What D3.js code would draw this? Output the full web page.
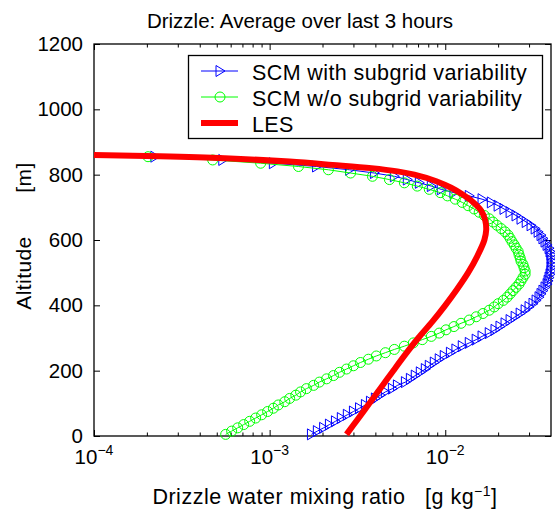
<!DOCTYPE html>
<html>
<head>
<meta charset="utf-8">
<title>Drizzle: Average over last 3 hours</title>
<script src="https://cdn.jsdelivr.net/npm/d3@7"></script>
<style>
body { margin: 0; background: #fff; }
text { font-family: "Liberation Sans", Arial, sans-serif; fill: #000; }
</style>
</head>
<body>
<div id="chart"></div>
<script>
// model levels [m]
const altitude = [5, 15, 25, 35, 45, 55, 65, 75, 85, 95,
  105, 115, 125, 135, 145, 155, 165, 175, 185, 195,
  205, 215, 225, 235, 245, 255, 265, 275, 285, 295,
  305, 315, 325, 335, 345, 355, 365, 375, 385, 395,
  405, 415, 425, 435, 445, 455, 465, 475, 485, 495,
  505, 515, 525, 535, 545, 555, 565, 575, 585, 595,
  605, 615, 625, 635, 645, 655, 665, 675, 685, 695,
  705, 715, 725, 735, 745, 755, 765, 775, 785, 795,
  805, 815, 825, 835, 845, 855];

// SCM with subgrid variability [g/kg]
const withSubgrid = [1.73e-3, 1.87e-3, 2.03e-3, 2.19e-3, 2.37e-3, 2.56e-3, 2.77e-3, 3.00e-3, 3.25e-3, 3.51e-3,
  3.75e-3, 4.00e-3, 4.27e-3, 4.56e-3, 5.00e-3, 5.34e-3, 5.93e-3, 6.33e-3, 6.75e-3, 7.21e-3,
  7.70e-3, 8.11e-3, 8.66e-3, 9.24e-3, 9.87e-3, 1.07e-2, 1.15e-2, 1.25e-2, 1.37e-2, 1.50e-2,
  1.62e-2, 1.78e-2, 1.92e-2, 2.05e-2, 2.19e-2, 2.34e-2, 2.50e-2, 2.67e-2, 2.85e-2, 3.00e-2,
  3.16e-2, 3.29e-2, 3.42e-2, 3.51e-2, 3.60e-2, 3.70e-2, 3.80e-2, 3.85e-2, 3.90e-2, 3.95e-2,
  4.00e-2, 4.00e-2, 4.05e-2, 4.05e-2, 4.00e-2, 4.00e-2, 3.95e-2, 3.90e-2, 3.80e-2, 3.70e-2,
  3.60e-2, 3.51e-2, 3.38e-2, 3.25e-2, 3.08e-2, 2.89e-2, 2.70e-2, 2.53e-2, 2.34e-2, 2.16e-2,
  2.00e-2, 1.83e-2, 1.62e-2, 1.37e-2, 1.12e-2, 9.49e-3, 8.33e-3, 7.12e-3, 6.08e-3, 5.13e-3,
  3.95e-3, 2.85e-3, 1.85e-3, 1.05e-3, 5.41e-4, 2.22e-4];

// SCM w/o subgrid variability [g/kg]
const withoutSubgrid = [5.62e-4, 6.08e-4, 6.58e-4, 7.12e-4, 7.70e-4, 8.33e-4, 9.01e-4, 9.74e-4, 1.05e-3, 1.12e-3,
  1.22e-3, 1.30e-3, 1.41e-3, 1.50e-3, 1.62e-3, 1.78e-3, 1.92e-3, 2.11e-3, 2.31e-3, 2.50e-3,
  2.74e-3, 3.00e-3, 3.29e-3, 3.65e-3, 4.05e-3, 4.56e-3, 5.13e-3, 5.85e-3, 6.58e-3, 7.40e-3,
  8.33e-3, 9.24e-3, 1.01e-2, 1.12e-2, 1.23e-2, 1.37e-2, 1.50e-2, 1.64e-2, 1.78e-2, 1.90e-2,
  2.00e-2, 2.14e-2, 2.25e-2, 2.34e-2, 2.43e-2, 2.53e-2, 2.63e-2, 2.70e-2, 2.77e-2, 2.85e-2,
  2.85e-2, 2.81e-2, 2.77e-2, 2.70e-2, 2.67e-2, 2.63e-2, 2.60e-2, 2.53e-2, 2.47e-2, 2.40e-2,
  2.34e-2, 2.28e-2, 2.19e-2, 2.08e-2, 1.97e-2, 1.87e-2, 1.78e-2, 1.67e-2, 1.56e-2, 1.46e-2,
  1.35e-2, 1.25e-2, 1.14e-2, 1.03e-2, 9.37e-3, 8.11e-3, 6.93e-3, 5.85e-3, 4.81e-3, 3.85e-3,
  2.89e-3, 2.16e-3, 1.46e-3, 8.89e-4, 4.74e-4, 2.03e-4];

// LES profile
const lesAltitude = [5, 50, 100, 150, 200, 250, 300, 350, 400, 450, 500, 550, 600, 630, 660, 690, 720, 740, 760, 780, 800, 810, 820, 830, 840, 850, 856, 860];
const lesValue = [2.74e-3, 3.16e-3, 3.70e-3, 4.33e-3, 5.06e-3, 5.93e-3, 7.02e-3, 8.44e-3, 1.00e-2, 1.17e-2, 1.35e-2, 1.52e-2, 1.67e-2, 1.71e-2, 1.69e-2, 1.60e-2, 1.41e-2, 1.25e-2, 1.08e-2, 8.89e-3, 6.67e-3, 5.34e-3, 3.80e-3, 2.28e-3, 1.30e-3, 5.55e-4, 2.37e-4, 1.00e-4];

const yTicks = [0, 200, 400, 600, 800, 1000, 1200];
const xMajor = [1e-4, 1e-3, 1e-2];
const xMajorExp = ["\u22124", "\u22123", "\u22122"];
const minorSteps = [2, 3, 4, 5, 6, 7, 8, 9];
const seriesNames = ["SCM with subgrid variability", "SCM w/o subgrid variability", "LES"];

const width = 555, height = 512;
const plotLeft = 94, plotRight = 551, plotTop = 44, plotBottom = 436;

const svg = d3.select("#chart").append("svg")
  .attr("width", width)
  .attr("height", height);

const x = d3.scaleLog().domain([1e-4, 0.04]).range([plotLeft, plotRight]);
const y = d3.scaleLinear().domain([0, 1200]).range([plotBottom, plotTop]);

const minorTicks = [];
xMajor.forEach(m => minorSteps.forEach(s => { if (m * s < 0.04) minorTicks.push(m * s); }));

// inward ticks on all four sides
function ticks(axis, offset, values, size) {
  svg.append("g")
    .attr("transform", offset)
    .call(axis.tickValues(values).tickSize(-size).tickFormat(""))
    .call(g => g.select(".domain").remove())
    .selectAll("line").attr("stroke", "#000");
}
ticks(d3.axisBottom(x), `translate(0,${plotBottom})`, xMajor, 6);
ticks(d3.axisBottom(x), `translate(0,${plotBottom})`, minorTicks, 3.5);
ticks(d3.axisTop(x), `translate(0,${plotTop})`, xMajor, 6);
ticks(d3.axisTop(x), `translate(0,${plotTop})`, minorTicks, 3.5);
ticks(d3.axisLeft(y), `translate(${plotLeft},0)`, yTicks, 6);
ticks(d3.axisRight(y), `translate(${plotRight},0)`, yTicks, 6);

svg.append("rect")
  .attr("x", plotLeft).attr("y", plotTop)
  .attr("width", plotRight - plotLeft).attr("height", plotBottom - plotTop)
  .attr("fill", "none").attr("stroke", "#000").attr("stroke-width", 1.3);

// tick labels
svg.append("g").selectAll("text")
  .data(yTicks).join("text")
  .attr("x", plotLeft - 11)
  .attr("y", d => y(d))
  .attr("dy", "0.34em")
  .attr("text-anchor", "end")
  .attr("font-size", 20.5)
  .text(d => d);

const xl = svg.append("g").selectAll("text")
  .data(xMajor).join("text")
  .attr("x", d => x(d))
  .attr("y", plotBottom + 28)
  .attr("text-anchor", "middle")
  .attr("font-size", 20.5);
xl.append("tspan").text("10");
xl.append("tspan").attr("dy", -9).attr("font-size", 14).text((d, i) => xMajorExp[i]);

// data
const line = d3.line().x(d => x(d[0])).y(d => y(d[1]));
const blueData = d3.zip(withSubgrid, altitude);
const greenData = d3.zip(withoutSubgrid, altitude);
const triangle = "M-4,-5.5L5,0L-4,5.5Z";

svg.append("path").datum(blueData)
  .attr("d", line).attr("fill", "none").attr("stroke", "#0000ff").attr("stroke-width", 1);
svg.append("g").selectAll("path")
  .data(blueData).join("path")
  .attr("transform", d => `translate(${x(d[0])},${y(d[1])})`)
  .attr("d", triangle)
  .attr("fill", "none").attr("stroke", "#0000ff").attr("stroke-width", 1);

svg.append("path").datum(greenData)
  .attr("d", line).attr("fill", "none").attr("stroke", "#00ff00").attr("stroke-width", 1);
svg.append("g").selectAll("circle")
  .data(greenData).join("circle")
  .attr("cx", d => x(d[0])).attr("cy", d => y(d[1])).attr("r", 5)
  .attr("fill", "none").attr("stroke", "#00ff00").attr("stroke-width", 1);

svg.append("path").datum(d3.zip(lesValue, lesAltitude))
  .attr("d", line.curve(d3.curveCatmullRom))
  .attr("fill", "none").attr("stroke", "#ff0000").attr("stroke-width", 6);

// legend
const lg = svg.append("g");
lg.append("rect")
  .attr("x", 188.5).attr("y", 55.5).attr("width", 354).attr("height", 83)
  .attr("fill", "#fff").attr("stroke", "#000").attr("stroke-width", 1.3);
const rows = [71, 97, 123];
lg.append("line").attr("x1", 201).attr("x2", 238).attr("y1", rows[0]).attr("y2", rows[0]).attr("stroke", "#0000ff");
lg.append("path").attr("transform", `translate(220,${rows[0]})`).attr("d", triangle).attr("fill", "none").attr("stroke", "#0000ff");
lg.append("line").attr("x1", 201).attr("x2", 238).attr("y1", rows[1]).attr("y2", rows[1]).attr("stroke", "#00ff00");
lg.append("circle").attr("cx", 220).attr("cy", rows[1]).attr("r", 5).attr("fill", "none").attr("stroke", "#00ff00");
lg.append("line").attr("x1", 201).attr("x2", 238).attr("y1", rows[2]).attr("y2", rows[2]).attr("stroke", "#ff0000").attr("stroke-width", 6);
lg.selectAll("text").data(seriesNames).join("text")
  .attr("x", 252).attr("y", (d, i) => rows[i] + 8.5)
  .attr("font-size", 21.5)
  .attr("letter-spacing", 0.4)
  .text(d => d);

// titles
svg.append("text")
  .attr("x", 300).attr("y", 28)
  .attr("text-anchor", "middle").attr("font-size", 20.5)
  .text("Drizzle: Average over last 3 hours");

const xt = svg.append("text")
  .attr("x", 325).attr("y", 504)
  .attr("text-anchor", "middle").attr("font-size", 21.5)
  .attr("letter-spacing", 0.5)
  .style("white-space", "pre");
xt.append("tspan").text("Drizzle water mixing ratio   [g kg");
xt.append("tspan").attr("dy", -8).attr("font-size", 14).text("\u22121");
xt.append("tspan").attr("dy", 8).text("]");

svg.append("text")
  .attr("transform", "translate(31,236) rotate(-90)")
  .attr("text-anchor", "middle").attr("font-size", 21)
  .attr("letter-spacing", 0.4)
  .style("white-space", "pre")
  .text("Altitude       [m]");
</script>
</body>
</html>
